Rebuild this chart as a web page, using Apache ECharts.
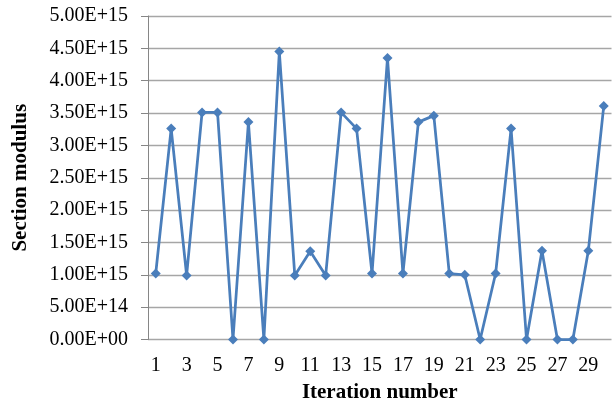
<!DOCTYPE html>
<html><head><meta charset="utf-8">
<script src="https://cdn.jsdelivr.net/npm/echarts@6/dist/echarts.min.js"></script>
<style>html,body{margin:0;padding:0;background:#fff}#c{width:613px;height:405px}</style>
</head><body><div id="c"></div>
<script>
const categories = ["1","2","3","4","5","6","7","8","9","10","11","12","13","14","15","16","17","18","19","20","21","22","23","24","25","26","27","28","29","30"];
const sectionModulus = [1.02e15,3.26e15,0.99e15,3.51e15,3.51e15,0,3.36e15,0,4.45e15,0.99e15,1.365e15,0.99e15,3.51e15,3.26e15,1.02e15,4.35e15,1.02e15,3.36e15,3.46e15,1.02e15,1.00e15,0,1.02e15,3.26e15,0,1.37e15,0,0,1.37e15,3.61e15];
const xTitle = "Iteration number";
const yTitle = "Section modulus";

const chart = echarts.init(document.getElementById('c'));
const font = "Liberation Serif";
chart.setOption({
  animation:false,
  grid:{left:148,right:1.5,top:16,bottom:65.5,containLabel:false,outerBoundsMode:'none'},
  xAxis:{type:'category',data:categories,boundaryGap:true,
    name:xTitle,nameLocation:'middle',nameGap:43,
    nameTextStyle:{fontFamily:font,fontWeight:'bold',fontSize:21,color:'#000'},
    axisLine:{show:false},axisTick:{show:false},
    axisLabel:{interval:1,fontFamily:font,fontSize:20,color:'#000',margin:16}},
  yAxis:{type:'value',min:0,max:5e15,interval:5e14,
    name:yTitle,nameLocation:'middle',nameGap:117,
    nameTextStyle:{fontFamily:font,fontWeight:'bold',fontSize:21,color:'#000'},
    axisLine:{show:true,lineStyle:{color:'#868686',width:1}},
    axisTick:{show:true,length:7,lineStyle:{color:'#868686'}},
    splitLine:{lineStyle:{color:'#a6a6a6',width:1.3}},
    axisLabel:{fontFamily:font,fontSize:20,color:'#000',margin:20,
      formatter:v=>{ if(v===0) return '0.00E+00'; const e=Math.floor(Math.log10(v)+1e-9); const m=v/Math.pow(10,e); return m.toFixed(2)+'E+'+e; }}},
  series:[{type:'line',data:sectionModulus,symbol:'diamond',symbolSize:10,
    lineStyle:{color:'#4a7ebb',width:2.75},itemStyle:{color:'#4a7ebb'}}]
});
</script></body></html>
